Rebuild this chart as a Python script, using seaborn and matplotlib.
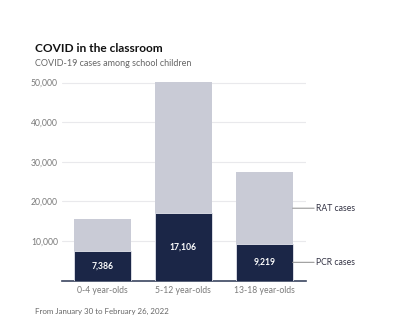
import matplotlib
matplotlib.use("Agg")
import matplotlib.pyplot as plt
import seaborn as sns
import pandas as pd

categories = ["0-4 year-olds", "5-12 year-olds", "13-18 year-olds"]
pcr_cases = [7386, 17106, 9219]
rat_cases = [8150, 33100, 18100]
yticks = [10000, 20000, 30000, 40000, 50000]

df = pd.DataFrame({
    "group": categories,
    "pcr": pcr_cases,
    "rat": rat_cases,
})
df["total"] = df["pcr"] + df["rat"]

sns.set_theme(style="white")
plt.rcParams["font.family"] = ["Lato", "DejaVu Sans"]

DARK = "#1b2647"
LIGHT = "#c9cbd6"
GRAY = "#7a7a7a"

fig = plt.figure(figsize=(4.0, 3.28), dpi=100)
ax = fig.add_axes([0.155, 0.1445, 0.611, 0.616])

sns.barplot(data=df, x="group", y="total", color=LIGHT, width=0.70,
            saturation=1, ax=ax, zorder=2, linewidth=0)
sns.barplot(data=df, x="group", y="pcr", color=DARK, width=0.70,
            saturation=1, ax=ax, zorder=3, linewidth=0.6, edgecolor="#e6e7ee")

ax.set_xlim(-0.5, 2.52)
ax.set_ylim(0, 51000)
ax.set_yticks(yticks)
ax.set_yticklabels([f"{v:,}" for v in yticks], fontsize=6.2, color=GRAY)
ax.tick_params(axis="x", labelsize=6.2, labelcolor=GRAY, length=0, pad=4)
ax.tick_params(axis="y", length=0, pad=3)
ax.set_xlabel("")
ax.set_ylabel("")
ax.yaxis.grid(True, color="#e9e9ec", linewidth=0.8, zorder=0)
ax.set_axisbelow(True)
for s in ["top", "right", "left"]:
    ax.spines[s].set_visible(False)
ax.spines["bottom"].set_color("#3b4560")
ax.spines["bottom"].set_linewidth(1.2)

for i, v in enumerate(pcr_cases):
    ax.text(i, v / 2, f"{v:,}", ha="center", va="center", color="white",
            fontsize=6.2, fontweight="bold", zorder=4)

# annotations on the right
last = len(categories) - 1
rat_y = pcr_cases[last] + rat_cases[last] * 0.5
pcr_y = pcr_cases[last] * 0.5
for yv, label in [(rat_y, "RAT cases"), (pcr_y, "PCR cases")]:
    ax.annotate("", xy=(last + 0.35, yv), xytext=(last + 0.615, yv),
                xycoords="data", textcoords="data",
                arrowprops=dict(arrowstyle="-", color="#999999", lw=0.8,
                                shrinkA=0, shrinkB=0),
                annotation_clip=False)
    ax.text(last + 0.64, yv, label, ha="left", va="center", fontsize=6.2,
            color="#333344", clip_on=False)

fig.text(0.0875, 0.853, "COVID in the classroom", fontsize=8.6,
         fontweight="bold", color="#111111", ha="left", va="center")
fig.text(0.0875, 0.805, "COVID-19 cases among school children", fontsize=6.5,
         color="#666666", ha="left", va="center")
fig.text(0.0875, 0.049, "From January 30 to February 26, 2022", fontsize=5.7,
         color="#666666", ha="left", va="center")

fig.savefig("out.png", dpi=100, facecolor="white")
